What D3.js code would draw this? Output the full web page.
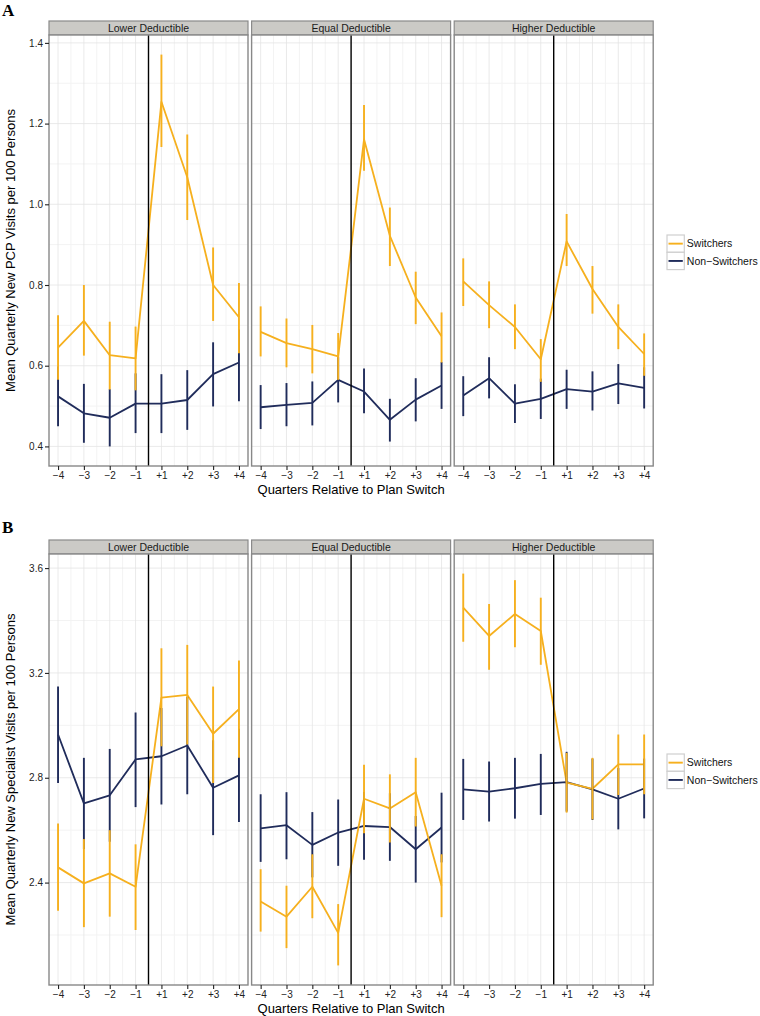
<!DOCTYPE html>
<html>
<head>
<meta charset="utf-8">
<script src="https://cdn.jsdelivr.net/npm/d3@7"></script>
<style>
  html, body { margin: 0; padding: 0; background: #ffffff; }
  svg { display: block; font-family: "Liberation Sans", Arial, Helvetica, sans-serif; }
</style>
</head>
<body>
<svg id="chart" width="760" height="1016"></svg>
<script>
// ---------- data ----------
const quarters = ["\u22124", "\u22123", "\u22122", "\u22121", "+1", "+2", "+3", "+4"];
const facets = ["Lower Deductible", "Equal Deductible", "Higher Deductible"];
const seriesNames = ["Switchers", "Non\u2212Switchers"];

// Panel A: Mean quarterly new PCP visits per 100 persons  (rows: Lower, Equal, Higher)
const pcpSwMean = [
  [0.645, 0.711, 0.626, 0.618, 1.254, 1.067, 0.800, 0.720],
  [0.684, 0.656, 0.641, 0.623, 1.161, 0.922, 0.769, 0.673],
  [0.809, 0.750, 0.696, 0.616, 0.908, 0.790, 0.696, 0.629]
];
const pcpSwLo = [
  [0.565, 0.625, 0.541, 0.539, 1.142, 0.961, 0.711, 0.631],
  [0.623, 0.596, 0.581, 0.565, 1.083, 0.847, 0.703, 0.608],
  [0.748, 0.693, 0.641, 0.560, 0.847, 0.729, 0.641, 0.575]
];
const pcpSwHi = [
  [0.725, 0.800, 0.709, 0.697, 1.371, 1.173, 0.893, 0.805],
  [0.747, 0.717, 0.701, 0.681, 1.246, 0.992, 0.833, 0.732],
  [0.866, 0.809, 0.752, 0.666, 0.976, 0.847, 0.752, 0.680]
];
const pcpNsMean = [
  [0.524, 0.482, 0.471, 0.506, 0.506, 0.515, 0.579, 0.608],
  [0.497, 0.503, 0.508, 0.565, 0.536, 0.466, 0.516, 0.551],
  [0.526, 0.569, 0.506, 0.518, 0.542, 0.536, 0.556, 0.545]
];
const pcpNsLo = [
  [0.450, 0.409, 0.400, 0.433, 0.433, 0.441, 0.499, 0.512],
  [0.443, 0.450, 0.452, 0.509, 0.482, 0.412, 0.462, 0.493],
  [0.475, 0.519, 0.458, 0.468, 0.493, 0.489, 0.505, 0.494]
];
const pcpNsHi = [
  [0.598, 0.555, 0.542, 0.581, 0.579, 0.589, 0.658, 0.690],
  [0.552, 0.557, 0.561, 0.621, 0.593, 0.518, 0.569, 0.609],
  [0.574, 0.621, 0.554, 0.568, 0.590, 0.586, 0.604, 0.596]
];

// Panel B: Mean quarterly new specialist visits per 100 persons
const specSwMean = [
  [2.458, 2.397, 2.435, 2.384, 3.106, 3.116, 2.968, 3.062],
  [2.328, 2.270, 2.384, 2.208, 2.720, 2.683, 2.745, 2.388],
  [3.449, 3.341, 3.425, 3.360, 2.781, 2.758, 2.851, 2.851]
];
const specSwLo = [
  [2.293, 2.230, 2.270, 2.219, 2.920, 2.927, 2.780, 2.876],
  [2.213, 2.150, 2.264, 2.084, 2.588, 2.553, 2.614, 2.268],
  [3.319, 3.212, 3.298, 3.231, 2.667, 2.641, 2.734, 2.737]
];
const specSwHi = [
  [2.625, 2.566, 2.600, 2.546, 3.294, 3.307, 3.148, 3.247],
  [2.451, 2.388, 2.508, 2.318, 2.850, 2.813, 2.876, 2.508],
  [3.579, 3.463, 3.554, 3.487, 2.895, 2.876, 2.965, 2.965]
];
const specNsMean = [
  [2.965, 2.702, 2.733, 2.870, 2.882, 2.923, 2.762, 2.809],
  [2.607, 2.619, 2.544, 2.591, 2.616, 2.612, 2.527, 2.610],
  [2.756, 2.747, 2.760, 2.777, 2.783, 2.756, 2.720, 2.759]
];
const specNsLo = [
  [2.780, 2.528, 2.556, 2.688, 2.698, 2.737, 2.581, 2.631],
  [2.479, 2.489, 2.420, 2.464, 2.487, 2.483, 2.400, 2.477],
  [2.639, 2.633, 2.644, 2.658, 2.671, 2.639, 2.603, 2.645]
];
const specNsHi = [
  [3.148, 2.876, 2.910, 3.049, 3.066, 3.109, 2.943, 2.987],
  [2.737, 2.745, 2.669, 2.717, 2.746, 2.741, 2.654, 2.743],
  [2.872, 2.862, 2.876, 2.891, 2.899, 2.873, 2.837, 2.873]
];

const pcpTicks = [0.4, 0.6, 0.8, 1.0, 1.2, 1.4];
const specTicks = [2.4, 2.8, 3.2, 3.6];
const switchAt = 4.5; // vertical line between -1 and +1

// ---------- styling ----------
const colSw = "#F6B01E";
const colNs = "#202C5B";
const svg = d3.select("#chart");
svg.append("rect").attr("width", 760).attr("height", 1016).attr("fill", "#fff");

const panelLeft = 49, panelW = 199, panelGap = 3.6;

function drawSection(cfg) {
  const g = svg.append("g");
  const all = [].concat(...cfg.swLo, ...cfg.swHi, ...cfg.nsLo, ...cfg.nsHi);
  const mn = d3.min(all), mx = d3.max(all), r = mx - mn;
  const y = d3.scaleLinear().domain([mn - 0.05 * r, mx + 0.05 * r]).range([cfg.bottom, cfg.top]);
  const majorStep = cfg.ticks[1] - cfg.ticks[0];
  const minor = [];
  for (let v = cfg.ticks[0] - majorStep / 2; v <= y.domain()[1]; v += majorStep) {
    if (v >= y.domain()[0]) minor.push(+v.toFixed(4));
  }

  // letter
  g.append("text").attr("x", 2).attr("y", cfg.letterY)
    .attr("font-family", "'Liberation Serif', 'Times New Roman', serif")
    .attr("font-weight", "bold").attr("font-size", 17).attr("fill", "#000")
    .text(cfg.letter);

  facets.forEach((f, fi) => {
    const x0 = panelLeft + fi * (panelW + panelGap);
    const x = d3.scaleLinear().domain([0.65, 8.35]).range([x0, x0 + panelW]);
    const pg = g.append("g");

    // strip
    pg.append("rect").attr("x", x0).attr("y", cfg.top - 14).attr("width", panelW).attr("height", 14)
      .attr("fill", "#CBCAC6").attr("stroke", "#8a8a8a").attr("stroke-width", 1.2);
    pg.append("text").attr("x", x0 + panelW / 2).attr("y", cfg.top - 3.5)
      .attr("text-anchor", "middle").attr("font-size", 10.5).attr("fill", "#1a1a1a").text(f);

    // panel background + grid
    pg.append("rect").attr("x", x0).attr("y", cfg.top).attr("width", panelW).attr("height", cfg.bottom - cfg.top)
      .attr("fill", "#fff");
    const xMinor = d3.range(1.5, 8, 1);
    pg.selectAll(".vminor").data(xMinor).enter().append("line")
      .attr("x1", d => x(d)).attr("x2", d => x(d)).attr("y1", cfg.top).attr("y2", cfg.bottom)
      .attr("stroke", "#f3f3f3").attr("stroke-width", 1);
    pg.selectAll(".hminor").data(minor).enter().append("line")
      .attr("x1", x0).attr("x2", x0 + panelW).attr("y1", d => y(d)).attr("y2", d => y(d))
      .attr("stroke", "#f3f3f3").attr("stroke-width", 1);
    pg.selectAll(".vmajor").data(d3.range(1, 9)).enter().append("line")
      .attr("x1", d => x(d)).attr("x2", d => x(d)).attr("y1", cfg.top).attr("y2", cfg.bottom)
      .attr("stroke", "#e4e4e4").attr("stroke-width", 0.8);
    pg.selectAll(".hmajor").data(cfg.ticks).enter().append("line")
      .attr("x1", x0).attr("x2", x0 + panelW).attr("y1", d => y(d)).attr("y2", d => y(d))
      .attr("stroke", "#e4e4e4").attr("stroke-width", 0.8);

    const idx = d3.range(8);
    const line = d3.line().x(i => x(i + 1));

    const series = [
      { mean: cfg.nsMean[fi], lo: cfg.nsLo[fi], hi: cfg.nsHi[fi], col: colNs },
      { mean: cfg.swMean[fi], lo: cfg.swLo[fi], hi: cfg.swHi[fi], col: colSw }
    ];
    series.forEach(s => {
      pg.append("path").datum(idx)
        .attr("d", line.y(i => y(s.mean[i])))
        .attr("fill", "none").attr("stroke", s.col).attr("stroke-width", 1.8)
        .attr("stroke-linejoin", "round");
    });
    series.forEach(s => {
      pg.selectAll(null).data(idx).enter().append("line")
        .attr("x1", i => x(i + 1)).attr("x2", i => x(i + 1))
        .attr("y1", i => y(s.lo[i])).attr("y2", i => y(s.hi[i]))
        .attr("stroke", s.col).attr("stroke-width", 1.9);
    });

    // vertical switch line
    pg.append("line").attr("x1", x(switchAt)).attr("x2", x(switchAt))
      .attr("y1", cfg.top).attr("y2", cfg.bottom).attr("stroke", "#000").attr("stroke-width", 1.4);

    // border
    pg.append("rect").attr("x", x0).attr("y", cfg.top).attr("width", panelW).attr("height", cfg.bottom - cfg.top)
      .attr("fill", "none").attr("stroke", "#888").attr("stroke-width", 1.4);

    // x axis
    const xa = pg.append("g").attr("transform", `translate(0,${cfg.bottom})`)
      .call(d3.axisBottom(x).tickValues(d3.range(1, 9)).tickFormat(d => quarters[d - 1]).tickSize(4).tickPadding(2));
    xa.select(".domain").remove();
    xa.selectAll(".tick line").attr("stroke", "#222").attr("stroke-width", 1.1);
    xa.selectAll(".tick text").attr("font-size", 10).attr("fill", "#222")
      .attr("font-family", "'Liberation Sans', Arial, sans-serif");
  });

  // y axis
  const ya = g.append("g").attr("transform", `translate(${panelLeft},0)`)
    .call(d3.axisLeft(y).tickValues(cfg.ticks).tickFormat(d3.format(".1f")).tickSize(4).tickPadding(2));
  ya.select(".domain").remove();
  ya.selectAll(".tick line").attr("stroke", "#222").attr("stroke-width", 1.1);
  ya.selectAll(".tick text").attr("font-size", 10).attr("fill", "#222")
    .attr("font-family", "'Liberation Sans', Arial, sans-serif");

  // axis titles
  const plotRight = panelLeft + 3 * panelW + 2 * panelGap;
  g.append("text").attr("x", (panelLeft + plotRight) / 2).attr("y", cfg.bottom + cfg.xTitleOffset)
    .attr("text-anchor", "middle").attr("font-size", 13).attr("fill", "#000")
    .text("Quarters Relative to Plan Switch");
  g.append("text")
    .attr("transform", `translate(15,${(cfg.top + cfg.bottom) / 2}) rotate(-90)`)
    .attr("text-anchor", "middle").attr("font-size", 13).attr("fill", "#000")
    .text(cfg.ytitle);

  // legend
  const lx = 667, ly = cfg.legendY, ks = 17.3;
  [colSw, colNs].forEach((c, i) => {
    g.append("rect").attr("x", lx).attr("y", ly + i * ks).attr("width", ks).attr("height", ks)
      .attr("fill", "#fff").attr("stroke", "#cfcfcf").attr("stroke-width", 1.2);
    g.append("line").attr("x1", lx + 1.5).attr("x2", lx + ks - 1.5)
      .attr("y1", ly + i * ks + ks / 2).attr("y2", ly + i * ks + ks / 2)
      .attr("stroke", c).attr("stroke-width", 1.9);
    g.append("text").attr("x", lx + ks + 2.5).attr("y", ly + i * ks + ks / 2 + 3.7)
      .attr("font-size", 10.5).attr("fill", "#111").text(seriesNames[i]);
  });
}

drawSection({
  letter: "A", letterY: 16, top: 35, bottom: 466, ticks: pcpTicks, legendY: 235, xTitleOffset: 28,
  ytitle: "Mean Quarterly New PCP Visits per 100 Persons",
  swMean: pcpSwMean, swLo: pcpSwLo, swHi: pcpSwHi,
  nsMean: pcpNsMean, nsLo: pcpNsLo, nsHi: pcpNsHi
});
drawSection({
  letter: "B", letterY: 533, top: 554, bottom: 985, ticks: specTicks, legendY: 754, xTitleOffset: 28,
  ytitle: "Mean Quarterly New Specialist Visits per 100 Persons",
  swMean: specSwMean, swLo: specSwLo, swHi: specSwHi,
  nsMean: specNsMean, nsLo: specNsLo, nsHi: specNsHi
});
</script>
</body>
</html>
